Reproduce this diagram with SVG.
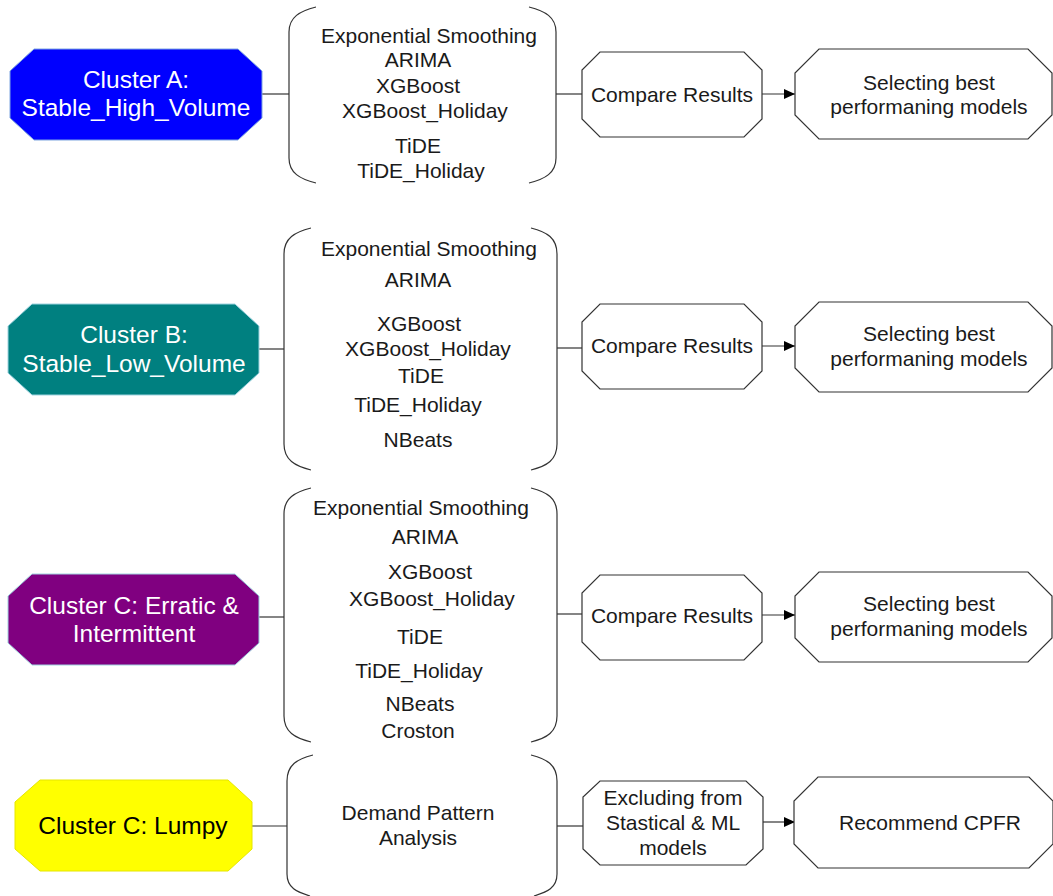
<svg xmlns="http://www.w3.org/2000/svg" width="1053" height="896" viewBox="0 0 1053 896">
<defs>
<style>
text{font-family:"Liberation Sans",Arial,sans-serif;font-size:21px;fill:#1a1a1a;text-anchor:middle;dominant-baseline:central}
.cl{font-size:24.5px;fill:#ffffff}
.cly{font-size:24.5px;fill:#000}
.box{fill:#fff;stroke:#333;stroke-width:1.2}
.br{fill:none;stroke:#333;stroke-width:1.2}
.ln{fill:none;stroke:#333;stroke-width:1.2}
</style>
<marker id="ah" markerWidth="12" markerHeight="12" refX="11" refY="5.5" orient="auto" markerUnits="userSpaceOnUse">
<path d="M0,0.5 L11,5.5 L0,10.5 Z" fill="#000"/>
</marker>
</defs>
<rect width="1053" height="896" fill="#fff"/>

<g id="connectors">
<path class="ln" d="M262 94 H289"/>
<path class="ln" d="M556 94 H582"/>
<path class="ln" d="M762 94 H795" marker-end="url(#ah)"/>
<path class="ln" d="M259 349 H284"/>
<path class="ln" d="M557 348 H582"/>
<path class="ln" d="M762 346 H795" marker-end="url(#ah)"/>
<path class="ln" d="M259 617 H284"/>
<path class="ln" d="M557 614 H582"/>
<path class="ln" d="M762 615 H795" marker-end="url(#ah)"/>
<path class="ln" d="M252 826 H287"/>
<path class="ln" d="M557 826 H583"/>
<path class="ln" d="M763 822 H795" marker-end="url(#ah)"/>
</g>

<g id="clusterA">
<polygon points="34,49 238,49 262,71 262,118 238,140 34,140 10,118 10,71" fill="#0000ff" stroke="#7ea6e0" stroke-width="1"/>
<text class="cl" x="136" y="79">Cluster A:</text>
<text class="cl" x="136" y="107">Stable_High_Volume</text>
</g>
<g id="modelsA">
<path class="br" d="M316 7 C300 11 289 17 289 32 L289 158 C289 173 300 179 316 183"/>
<path class="br" d="M529 7 C545 11 556 17 556 32 L556 158 C556 173 545 179 529 183"/>
<text x="429" y="35">Exponential Smoothing</text>
<text x="418" y="59">ARIMA</text>
<text x="418" y="85">XGBoost</text>
<text x="425" y="110">XGBoost_Holiday</text>
<text x="418" y="145">TiDE</text>
<text x="421" y="170">TiDE_Holiday</text>
</g>
<g id="compareA">
<polygon class="box" points="600,52 744,52 762,70 762,119 744,137 600,137 582,119 582,70"/>
<text x="672" y="94">Compare Results</text>
</g>
<g id="selectA">
<polygon class="box" points="819,49 1028,49 1052,73 1052,115 1028,139 819,139 795,115 795,73"/>
<text x="929" y="82">Selecting best</text>
<text x="929" y="106">performaning models</text>
</g>

<g id="clusterB">
<polygon points="32,304 235,304 259,326 259,373 235,395 32,395 8,373 8,326" fill="#008080" stroke="#9fd3df" stroke-width="1"/>
<text class="cl" x="134" y="334">Cluster B:</text>
<text class="cl" x="134" y="363">Stable_Low_Volume</text>
</g>
<g id="modelsB">
<path class="br" d="M311 228 C295 232 284 238 284 254 L284 444 C284 460 295 466 311 470"/>
<path class="br" d="M531 228 C547 232 557 238 557 254 L557 444 C557 460 547 466 531 470"/>
<text x="429" y="248">Exponential Smoothing</text>
<text x="418" y="279">ARIMA</text>
<text x="419" y="323">XGBoost</text>
<text x="428" y="348">XGBoost_Holiday</text>
<text x="421" y="375">TiDE</text>
<text x="418" y="404">TiDE_Holiday</text>
<text x="418" y="439">NBeats</text>
</g>
<g id="compareB">
<polygon class="box" points="600,304 744,304 762,322 762,371 744,389 600,389 582,371 582,322"/>
<text x="672" y="345">Compare Results</text>
</g>
<g id="selectB">
<polygon class="box" points="819,302 1028,302 1052,326 1052,368 1028,392 819,392 795,368 795,326"/>
<text x="929" y="333">Selecting best</text>
<text x="929" y="358">performaning models</text>
</g>

<g id="clusterC">
<polygon points="32,574 235,574 259,596 259,643 235,665 32,665 8,643 8,596" fill="#800080" stroke="#9fd3df" stroke-width="1"/>
<text class="cl" x="134" y="605">Cluster C: Erratic &amp;</text>
<text class="cl" x="134" y="633">Intermittent</text>
</g>
<g id="modelsC">
<path class="br" d="M311 488 C295 492 284 498 284 514 L284 716 C284 732 295 738 311 742"/>
<path class="br" d="M531 488 C547 492 557 498 557 514 L557 716 C557 732 547 738 531 742"/>
<text x="421" y="507">Exponential Smoothing</text>
<text x="425" y="536">ARIMA</text>
<text x="430" y="571">XGBoost</text>
<text x="432" y="598">XGBoost_Holiday</text>
<text x="420" y="636">TiDE</text>
<text x="419" y="670">TiDE_Holiday</text>
<text x="420" y="703">NBeats</text>
<text x="418" y="730">Croston</text>
</g>
<g id="compareC">
<polygon class="box" points="600,575 744,575 762,593 762,642 744,660 600,660 582,642 582,593"/>
<text x="672" y="615">Compare Results</text>
</g>
<g id="selectC">
<polygon class="box" points="819,572 1028,572 1052,596 1052,638 1028,662 819,662 795,638 795,596"/>
<text x="929" y="603">Selecting best</text>
<text x="929" y="628">performaning models</text>
</g>

<g id="clusterD">
<polygon points="40,780 228,780 252,802 252,849 228,871 40,871 15,849 15,802" fill="#ffff00" stroke="#e6e600" stroke-width="1"/>
<text class="cly" x="133" y="825">Cluster C: Lumpy</text>
</g>
<g id="analysisD">
<path class="br" d="M313 755 C297 759 287 765 287 781 L287 874 C287 888 297 892 310 896"/>
<path class="br" d="M531 755 C547 759 557 765 557 781 L557 874 C557 888 547 892 534 896"/>
<text x="418" y="812">Demand Pattern</text>
<text x="418" y="837">Analysis</text>
</g>
<g id="excludeD">
<polygon class="box" points="600,781 746,781 763,797 763,849 746,865 600,865 583,849 583,797"/>
<text x="673" y="797">Excluding from</text>
<text x="673" y="822">Stastical &amp; ML</text>
<text x="673" y="847">models</text>
</g>
<g id="recommendD">
<polygon class="box" points="818,777 1029,777 1053,801 1053,844 1029,868 818,868 794,844 794,801"/>
<text x="930" y="822">Recommend CPFR</text>
</g>
</svg>
